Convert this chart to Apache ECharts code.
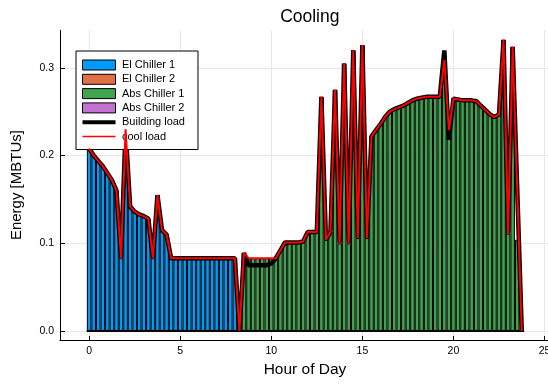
<!DOCTYPE html>
<html>
<head>
<meta charset="utf-8">
<title>Cooling</title>
<script src="https://cdn.jsdelivr.net/npm/echarts@6/dist/echarts.min.js"></script>
<style>
  html, body { margin: 0; padding: 0; background: #fff; }
  #chart { width: 548px; height: 384px; }
</style>
</head>
<body>
<div id="chart"></div>
<script>
// Quarter-hour time grid, 0:00 .. 23:45
const hours = Array.from({ length: 96 }, (_, i) => i * 0.25);

// Tick positions
const hourTicks = [0, 5, 10, 15, 20, 25];
const energyTicks = [0, 0.1, 0.2, 0.3];

// Cooling demand [MBTUs] per quarter hour
const coolLoad = [
  0.208, 0.200, 0.194, 0.188, 0.180, 0.172, 0.160, 0.083,
  0.230, 0.142, 0.136, 0.133, 0.131, 0.128, 0.083, 0.155,
  0.115, 0.110, 0.083, 0.083, 0.083, 0.083, 0.083, 0.083,
  0.083, 0.083, 0.083, 0.083, 0.083, 0.083, 0.083, 0.083,
  0.083, 0.000, 0.089, 0.083, 0.083, 0.083, 0.083, 0.083,
  0.083, 0.083, 0.092, 0.101, 0.101, 0.101, 0.101, 0.102,
  0.113, 0.113, 0.113, 0.267, 0.104, 0.113, 0.275, 0.100,
  0.305, 0.100, 0.320, 0.106, 0.326, 0.106, 0.222, 0.229,
  0.236, 0.244, 0.250, 0.253, 0.255, 0.257, 0.260, 0.263,
  0.265, 0.266, 0.267, 0.267, 0.267, 0.267, 0.309, 0.229,
  0.265, 0.264, 0.263, 0.263, 0.263, 0.262, 0.257, 0.252,
  0.247, 0.244, 0.247, 0.332, 0.111, 0.324, 0.162, 0.000
];

// Building load [MBTUs] per quarter hour
const buildingLoad = [
  0.208, 0.200, 0.194, 0.188, 0.180, 0.172, 0.160, 0.083,
  0.230, 0.142, 0.136, 0.133, 0.131, 0.128, 0.083, 0.155,
  0.115, 0.110, 0.083, 0.083, 0.083, 0.083, 0.083, 0.083,
  0.083, 0.083, 0.083, 0.083, 0.083, 0.083, 0.083, 0.083,
  0.083, 0.000, 0.089, 0.075, 0.075, 0.075, 0.075, 0.075,
  0.077, 0.083, 0.092, 0.101, 0.101, 0.101, 0.101, 0.102,
  0.113, 0.113, 0.113, 0.267, 0.104, 0.113, 0.275, 0.100,
  0.305, 0.100, 0.320, 0.106, 0.326, 0.106, 0.222, 0.229,
  0.236, 0.244, 0.250, 0.253, 0.255, 0.257, 0.260, 0.263,
  0.265, 0.266, 0.267, 0.267, 0.267, 0.267, 0.320, 0.218,
  0.265, 0.264, 0.263, 0.263, 0.263, 0.262, 0.257, 0.252,
  0.247, 0.244, 0.247, 0.332, 0.111, 0.324, 0.162, 0.000
];

// Chiller output [MBTUs] per quarter hour
const elChiller1 = [
  0.208, 0.200, 0.194, 0.188, 0.180, 0.172, 0.160, 0.083,
  0.230, 0.142, 0.136, 0.133, 0.131, 0.128, 0.083, 0.155,
  0.115, 0.110, 0.083, 0.083, 0.083, 0.083, 0.083, 0.083,
  0.083, 0.083, 0.083, 0.083, 0.083, 0.083, 0.083, 0.083,
  0.083, 0, 0, 0, 0, 0, 0, 0,
  0, 0, 0, 0, 0, 0, 0, 0,
  0, 0, 0, 0, 0, 0, 0, 0,
  0, 0, 0, 0, 0, 0, 0, 0,
  0, 0, 0, 0, 0, 0, 0, 0,
  0, 0, 0, 0, 0, 0, 0, 0,
  0, 0, 0, 0, 0, 0, 0, 0,
  0, 0, 0, 0, 0, 0, 0, 0
];

const elChiller2 = [
  0, 0, 0, 0, 0, 0, 0, 0, 0, 0, 0, 0, 0, 0, 0, 0,
  0, 0, 0, 0, 0, 0, 0, 0, 0, 0, 0, 0, 0, 0, 0, 0,
  0, 0, 0, 0, 0, 0, 0, 0, 0, 0, 0, 0, 0, 0, 0, 0,
  0, 0, 0, 0, 0, 0, 0, 0, 0, 0, 0, 0, 0, 0, 0, 0,
  0, 0, 0, 0, 0, 0, 0, 0, 0, 0, 0, 0, 0, 0, 0, 0,
  0, 0, 0, 0, 0, 0, 0, 0, 0, 0, 0, 0, 0, 0, 0, 0
];

const absChiller1 = [
  0, 0, 0, 0, 0, 0, 0, 0,
  0, 0, 0, 0, 0, 0, 0, 0,
  0, 0, 0, 0, 0, 0, 0, 0,
  0, 0, 0, 0, 0, 0, 0, 0,
  0, 0.000, 0.089, 0.083, 0.083, 0.083, 0.083, 0.083,
  0.083, 0.083, 0.092, 0.101, 0.101, 0.101, 0.101, 0.102,
  0.113, 0.113, 0.113, 0.267, 0.104, 0.113, 0.275, 0.100,
  0.305, 0.100, 0.320, 0.106, 0.326, 0.106, 0.222, 0.229,
  0.236, 0.244, 0.250, 0.253, 0.255, 0.257, 0.260, 0.263,
  0.265, 0.266, 0.267, 0.267, 0.267, 0.267, 0.309, 0.229,
  0.265, 0.264, 0.263, 0.263, 0.263, 0.262, 0.257, 0.252,
  0.247, 0.244, 0.247, 0.332, 0.111, 0.324, 0.104, 0.000
];

const absChiller2 = [
  0, 0, 0, 0, 0, 0, 0, 0, 0, 0, 0, 0, 0, 0, 0, 0,
  0, 0, 0, 0, 0, 0, 0, 0, 0, 0, 0, 0, 0, 0, 0, 0,
  0, 0, 0, 0, 0, 0, 0, 0, 0, 0, 0, 0, 0, 0, 0, 0,
  0, 0, 0, 0, 0, 0, 0, 0, 0, 0, 0, 0, 0, 0, 0, 0,
  0, 0, 0, 0, 0, 0, 0, 0, 0, 0, 0, 0, 0, 0, 0, 0,
  0, 0, 0, 0, 0, 0, 0, 0, 0, 0, 0, 0, 0, 0, 0, 0
];

const FONT = '"Liberation Sans", Arial, Helvetica, sans-serif';
const pair = arr => hours.map((h, i) => [h, arr[i]]);

// Legend swatches for the two load lines: a horizontal stripe inside a 33x10 box
const thickStripe = 'path://M0,0L33,0L33,0Z M0,3H33V7H0Z M0,10L33,10L33,10Z';
const thinStripe = 'path://M0,0L33,0L33,0Z M0,4.25H33V5.75H0Z M0,10L33,10L33,10Z';

const barSeries = [
  { name: 'El Chiller 1', data: elChiller1, color: '#009AFA' },
  { name: 'El Chiller 2', data: elChiller2, color: '#E36F47' },
  { name: 'Abs Chiller 1', data: absChiller1, color: '#3EA44E' },
  { name: 'Abs Chiller 2', data: absChiller2, color: '#C371D2' }
].map(s => ({
  name: s.name,
  type: 'bar',
  stack: 'production',
  barWidth: 4.55,
  data: pair(s.data),
  itemStyle: { color: s.color, borderColor: '#000', borderWidth: 1 },
  z: 2
}));

const chart = echarts.init(document.getElementById('chart'), null, { renderer: 'canvas' });

chart.setOption({
  animation: false,
  backgroundColor: '#fff',
  textStyle: { fontFamily: FONT },
  title: {
    text: 'Cooling',
    left: 304.8,
    top: 3,
    textAlign: 'center',
    textStyle: { fontFamily: FONT, fontSize: 17.5, fontWeight: 'normal', color: '#000' }
  },
  grid: {
    left: 60, top: 30.2, width: 490, height: 309.8,
    outerBoundsMode: 'none', containLabel: false
  },
  legend: {
    orient: 'vertical',
    left: 76, top: 51,
    padding: [8, 13, 7, 6],
    itemWidth: 33, itemHeight: 10, itemGap: 2.3,
    borderColor: '#000', borderWidth: 1,
    backgroundColor: '#fff',
    textStyle: { fontFamily: FONT, fontSize: 11, color: '#000', lineHeight: 12, padding: [0, 0, 0, 1.5] },
    selectedMode: false,
    data: [
      { name: 'El Chiller 1', icon: 'rect', itemStyle: { borderColor: '#000', borderWidth: 1 } },
      { name: 'El Chiller 2', icon: 'rect', itemStyle: { borderColor: '#000', borderWidth: 1 } },
      { name: 'Abs Chiller 1', icon: 'rect', itemStyle: { borderColor: '#000', borderWidth: 1 } },
      { name: 'Abs Chiller 2', icon: 'rect', itemStyle: { borderColor: '#000', borderWidth: 1 } },
      { name: 'Building load', icon: thickStripe, itemStyle: { color: '#000', borderWidth: 0 } },
      { name: 'cool load', icon: thinStripe, itemStyle: { color: '#FF0000', borderWidth: 0 } }
    ]
  },
  xAxis: {
    type: 'value',
    min: -1.6, max: 25.3,
    name: 'Hour of Day',
    nameLocation: 'middle',
    nameGap: 21,
    nameTextStyle: { fontFamily: FONT, fontSize: 15.5, color: '#000' },
    axisLine: { show: true, onZero: false, lineStyle: { color: '#000', width: 1 } },
    axisTick: { show: true, inside: true, length: 4, customValues: hourTicks, lineStyle: { color: '#000' } },
    axisLabel: { customValues: hourTicks, margin: 6, fontSize: 10.5, color: '#000', fontFamily: FONT },
    splitLine: { show: true, lineStyle: { color: '#e6e6e6', width: 1 } }
  },
  yAxis: {
    type: 'value',
    min: -0.0103, max: 0.343,
    name: 'Energy [MBTUs]',
    nameLocation: 'middle',
    nameGap: 36,
    nameTextStyle: { fontFamily: FONT, fontSize: 15, color: '#000' },
    axisLine: { show: true, onZero: false, lineStyle: { color: '#000', width: 1 } },
    axisTick: { show: true, inside: true, length: 5, customValues: energyTicks, lineStyle: { color: '#000' } },
    axisLabel: {
      customValues: energyTicks, margin: 6, fontSize: 10.5, color: '#000', fontFamily: FONT,
      formatter: v => v.toFixed(1)
    },
    splitLine: { show: true, lineStyle: { color: '#e6e6e6', width: 1 } }
  },
  series: [
    ...barSeries,
    {
      name: 'Building load',
      type: 'line',
      data: pair(buildingLoad),
      symbol: 'none',
      color: '#000',
      lineStyle: { color: '#000', width: 4.5, join: 'bevel' },
      z: 3
    },
    {
      name: 'cool load',
      type: 'line',
      data: pair(coolLoad),
      symbol: 'none',
      color: '#FF0000',
      lineStyle: { color: '#FF0000', width: 2, join: 'bevel' },
      z: 4
    }
  ]
});
</script>
</body>
</html>
